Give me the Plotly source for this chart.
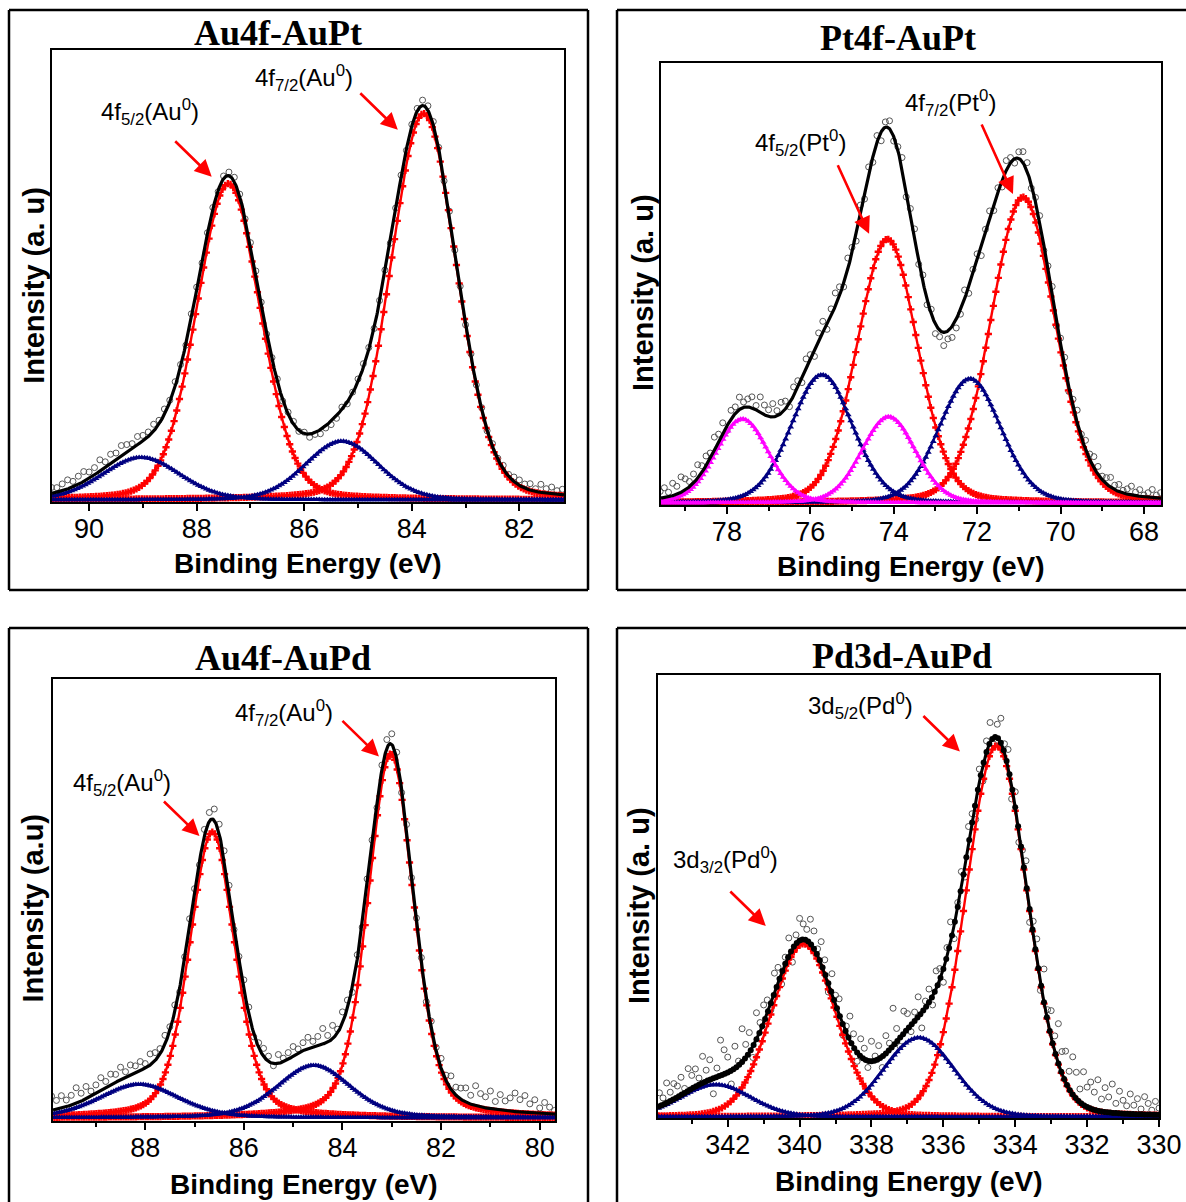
import numpy as np
import plotly.graph_objects as go

# ---------------- data ----------------
# Peak parameters: centre (eV), height (fraction of plot height), FWHM (eV)

# Panel 1: Au4f-AuPt
p1_red_c = [83.78, 87.41]
p1_red_h = [0.855, 0.700]
p1_red_w = [1.45, 1.40]
p1_blue_c = [85.30, 89.03]
p1_blue_h = [0.130, 0.094]
p1_blue_w = [1.60, 1.70]
p1_raw_start = 81.2
p1_raw_resid = [
    .012, .008, .015, .010, .018, .006, .014, .009, .012,
    .010, .004, .008, .002, .006, -.002, .004, .000, .005,
    -.003, .004, .002, .006, -.004, .003, .008, .010, .012, .006,
    .004, -.003, .005, .002, -.004, .006, .003, -.002, .004, .008,
    .006, .002, -.004, .005, -.006, -.008, -.005, -.009, -.004, -.007,
    .003, -.002, .006, .004, -.003, .005, .002, -.004, .003, .006,
    .004, -.002, .005, .010, .008, .006, -.003, .004, .002, -.004,
    .006, .009, -.003, .005, .010, .004, .012, .008, .015, .010,
    .012, .018, .010, .016, .022, .014, .020, .012, .025, .016,
    .014, .022, .018, .012, .020, .015, .010, .013]

# Panel 2: Pt4f-AuPt
p2_red_c = [70.90, 74.15]
p2_red_h = [0.692, 0.597]
p2_red_w = [1.80, 1.70]
p2_blue_c = [72.17, 75.72]
p2_blue_h = [0.281, 0.290]
p2_blue_w = [1.75, 1.74]
p2_mag_c = [74.12, 77.63]
p2_mag_h = [0.195, 0.190]
p2_mag_w = [1.52, 1.48]
p2_raw_start = 67.6
p2_raw_resid = [
    .012, .006, .018, .010, .004, .015, .008, .020, .012, .006,
    .016, .010, .022, .014, .008, .018, .025, .012, .020, .006,
    .028, .015, -.010, .020, .012, -.015, .018, .008, -.012, .015,
    .010, -.008, .020, .025, .015, -.010, .012, .022, -.015, .010,
    -.012, .018, .008, -.020, .015, .010, -.015, .020, -.010, -.020,
    -.025, -.018, -.030, -.015, -.022, .010, -.012, .015, -.008, .020,
    .012, -.015, .025, .008, -.010, .018, .012, -.020, .015, -.012,
    .018, -.010, .022, -.015, .012, .025, -.008, .020, .030, .015,
    -.012, .025, .018, -.015, .010, .022, -.010, .015, .020, -.008,
    .018, .025, .012, .030, .015, .022, .035, .010, .025, .018,
    .012, .028, .015, .020, -.010, .025, .018, .030, .012, .022,
    .015, .030, .020, .012, .025, .035, .018, .028, .010, .022, .015]

# Panel 3: Au4f-AuPd
p3_red_c = [83.02, 86.64]
p3_red_h = [0.824, 0.647]
p3_red_w = [1.09, 1.09]
p3_blue_c = [84.58, 88.12]
p3_blue_h = [0.119, 0.076]
p3_blue_w = [1.75, 1.90]
p3_raw_start = 79.7
p3_raw_resid = [
    .008, .015, .025, .012, .030, .020, .038, .028, .042, .030,
    .022, .035, .018, .040, .025, .030, .045, .020, .032, .025,
    .018, .030, .012, .022, .008, .015, -.008, .010, .005, -.006,
    .012, -.008, .015, .024, .020, .010, -.010, .008, .015, -.005,
    .010, -.012, .018, .025, .008, .030, .015, .035, .020, .012,
    .025, .018, .010, .022, .015, .008, .020, -.005, .012, .018,
    .010, -.008, .015, .020, .005, -.010, .012, .018, .022, .026,
    .020, .015, -.008, .010, .018, .005, -.010, .015, .008, .020,
    .012, .018, .025, .010, .020, .015, .022, .012, .028, .018,
    .025, .015, .030, .020, .012, .028, .018, .035, .022, .015,
    .028, .020, .032]

# Panel 4: Pd3d-AuPd
p4_red_c = [334.52, 339.89]
p4_red_h = [0.838, 0.391]
p4_red_w = [2.00, 2.10]
p4_blue_c = [336.68, 342.33]
p4_blue_h = [0.179, 0.073]
p4_blue_w = [2.30, 2.30]
p4_raw_start = 330.0
p4_raw_resid = [
    .015, .030, .010, .025, .040, .012, .035, .020, .045, .018,
    .030, .050, .022, .065, .035, .055, .028, .070, .040, .060,
    .045, .075, .030, .060, .085, .040, .070, .050, .090, .035,
    .060, .025, .075, -.020, .045, .030, -.030, .050, .015, -.025,
    .035, -.030, .040, .020, .055, .030, -.015, .045, .025, -.035,
    .030, -.040, .020, .040, -.025, .035, .010, -.030, .045, .020,
    -.030, .025, .040, -.020, .030, .015, -.035, .045, .020, -.015,
    .035, .050, -.020, .030, .085, .015, .040, -.025, .030, .010,
    .045, -.015, .025, .040, -.020, .030, .055, .015, -.025, .035,
    .020, .045, -.020, .030, .050, .015, .040, .055, .025, .035,
    .050, .020, -.030, .040, .015, -.025, .035, .045, -.015, .030,
    .040, .020, .060, -.025, .045, .030, .075, .010, .050, -.030,
    .035, .055, .080, .020, -.035, .045, .025, .060, .015, .040,
    .030, .050, .010, .040, .025, .035, .020, .045, .015, .030]

# Titles, labels
titles = ["Au4f-AuPt", "Pt4f-AuPt", "Au4f-AuPd", "Pd3d-AuPd"]
ytitles = ["Intensity (a. u)", "Intensity (a. u)", "Intensity (a.u)", "Intensity (a. u)"]
xtitle = "Binding Energy (eV)"
peak_labels = [
    ["4f<sub>5/2</sub>(Au<sup>0</sup>)", "4f<sub>7/2</sub>(Au<sup>0</sup>)"],
    ["4f<sub>5/2</sub>(Pt<sup>0</sup>)", "4f<sub>7/2</sub>(Pt<sup>0</sup>)"],
    ["4f<sub>5/2</sub>(Au<sup>0</sup>)", "4f<sub>7/2</sub>(Au<sup>0</sup>)"],
    ["3d<sub>3/2</sub>(Pd<sup>0</sup>)", "3d<sub>5/2</sub>(Pd<sup>0</sup>)"],
]

# ---------------- styling / layout ----------------
W, H = 1186, 1202
RED, NAVY, MAG = "#ff0000", "#000080", "#ff00ff"

panels = [
    dict(red=(p1_red_c, p1_red_h, p1_red_w), blue=(p1_blue_c, p1_blue_h, p1_blue_w), mag=None,
         eta=0.15, raw0=p1_raw_start, resid=p1_raw_resid, xr=[90.69, 81.17], yr=[-0.0044, 0.9956],
         px=(52, 564), py=(50, 502), step=0.05,
         lab_pos=[(88.87, 0.858), (86.01, 0.934)],
         arrows=[(87.72, 0.715, -38, -37), (84.26, 0.819, -39, -38)],
         title_pos=(277.6, 33), ytitle_px=(33.7, 285)),
    dict(red=(p2_red_c, p2_red_h, p2_red_w), blue=(p2_blue_c, p2_blue_h, p2_blue_w),
         mag=(p2_mag_c, p2_mag_h, p2_mag_w),
         eta=0.15, raw0=p2_raw_start, resid=p2_raw_resid, xr=[79.58, 67.59], yr=[-0.0045, 0.9955],
         px=(661, 1161), py=(63, 505), step=0.06,
         lab_pos=[(76.23, 0.814), (72.63, 0.905)],
         arrows=[(74.59, 0.609, -32, -70), (71.14, 0.699, -32, -71)],
         title_pos=(898, 38), ytitle_px=(643, 293)),
    dict(red=(p3_red_c, p3_red_h, p3_red_w), blue=(p3_blue_c, p3_blue_h, p3_blue_w), mag=None,
         eta=0.3, raw0=p3_raw_start, resid=p3_raw_resid, xr=[89.87, 79.69], yr=[-0.0068, 0.9932],
         px=(53, 555), py=(679, 1121), step=0.05,
         lab_pos=[(88.47, 0.758), (85.19, 0.916)],
         arrows=[(86.90, 0.638, -37, -36), (83.26, 0.818, -38, -37)],
         title_pos=(283, 658), ytitle_px=(32.5, 908)),
    dict(red=(p4_red_c, p4_red_h, p4_red_w), blue=(p4_blue_c, p4_blue_h, p4_blue_w), mag=None,
         eta=0.1, raw0=p4_raw_start, resid=p4_raw_resid, xr=[343.94, 330.0], yr=[-0.0023, 0.9977],
         px=(658, 1159), py=(675, 1118), step=0.08,
         lab_pos=[(342.06, 0.580), (338.31, 0.928)],
         arrows=[(340.94, 0.431, -37, -36), (335.54, 0.825, -38, -37)],
         title_pos=(902, 656), ytitle_px=(639, 906)),
]


def pv(x, c, h, w, eta):
    g = np.exp(-4 * np.log(2) * (x - c) ** 2 / w ** 2)
    l = 1.0 / (1 + 4 * (x - c) ** 2 / w ** 2)
    return h * ((1 - eta) * g + eta * l)


def comps(p):
    out = []
    for key in ("red", "blue", "mag"):
        if p[key] is None:
            continue
        cs, hs, ws = p[key]
        for c, h, w in zip(cs, hs, ws):
            out.append((key, c, h, w))
    return out


fig = go.Figure()
annotations = []
shapes = []

for i, p in enumerate(panels):
    n = "" if i == 0 else str(i + 1)
    xa, ya = "x" + n, "y" + n
    lo, hi = min(p["xr"]), max(p["xr"])
    cl = comps(p)

    def envelope(x):
        return sum(pv(x, c, h, w, p["eta"]) for _, c, h, w in cl)

    # raw data
    xr = p["raw0"] + 0.1 * np.arange(len(p["resid"]))
    yr = envelope(xr) + np.array(p["resid"])
    fig.add_trace(go.Scatter(x=xr, y=yr, mode="markers", xaxis=xa, yaxis=ya,
                             marker=dict(symbol="circle-open", size=6, color="#555555",
                                         line=dict(width=1)),
                             showlegend=False, hoverinfo="skip"))
    # components
    xg = np.arange(lo, hi + p["step"] / 2, p["step"])
    for key, c, h, w in cl:
        col = {"red": RED, "blue": NAVY, "mag": MAG}[key]
        sym = {"red": "cross", "blue": "triangle-up", "mag": "triangle-up"}[key]
        fig.add_trace(go.Scatter(x=xg, y=pv(xg, c, h, w, p["eta"]), mode="lines+markers",
                                 xaxis=xa, yaxis=ya,
                                 line=dict(color=col, width=2.4),
                                 marker=dict(symbol=sym, size=6, color=col, line=dict(width=0)),
                                 showlegend=False, hoverinfo="skip"))
    # envelope
    xf = np.arange(lo, hi + 0.005, 0.01)
    if i == 3:
        fig.add_trace(go.Scatter(x=xg, y=envelope(xg), mode="lines+markers", xaxis=xa, yaxis=ya,
                                 line=dict(color="black", width=3),
                                 marker=dict(symbol="circle", size=6, color="black"),
                                 showlegend=False, hoverinfo="skip"))
    else:
        fig.add_trace(go.Scatter(x=xf, y=envelope(xf), mode="lines", xaxis=xa, yaxis=ya,
                                 line=dict(color="black", width=3.2),
                                 showlegend=False, hoverinfo="skip"))

    x0, x1 = p["px"]
    y0, y1 = p["py"]
    xdom = [x0 / W, x1 / W]
    ydom = [1 - y1 / H, 1 - y0 / H]
    fig.update_layout(**{
        "xaxis" + n: dict(domain=xdom, range=p["xr"], anchor=ya, showgrid=False, zeroline=False,
                          automargin=False,
                          showline=True, linecolor="black", linewidth=2, mirror=True,
                          ticks="outside", ticklen=7, tickwidth=2, tickcolor="black",
                          tick0=0, dtick=2, ticklabelstandoff=-5,
                          minor=dict(ticks="outside", dtick=1, ticklen=4, tickwidth=2,
                                     tickcolor="black"),
                          tickfont=dict(family="Liberation Sans, Arial", size=27, color="black")),
        "yaxis" + n: dict(domain=ydom, range=p["yr"], anchor=xa, showgrid=False, zeroline=False,
                          automargin=False,
                          showline=True, linecolor="black", linewidth=2, mirror=True,
                          ticks="", showticklabels=False),
    })
    pw, ph = x1 - x0, y1 - y0
    # chart title
    tx, ty = p["title_pos"]
    annotations.append(dict(text="<b>%s</b>" % titles[i], xref=xa + " domain", yref=ya + " domain",
                            x=(tx - x0) / pw, y=(y1 - ty) / ph, xanchor="center", yanchor="middle",
                            showarrow=False,
                            font=dict(family="Liberation Serif, Times New Roman", size=36,
                                      color="black")))
    # x title
    annotations.append(dict(text="<b>%s</b>" % xtitle, xref=xa + " domain", yref=ya + " domain",
                            x=0.5, y=-(61 if i < 2 else 63.5) / ph, xanchor="center",
                            yanchor="middle", showarrow=False,
                            font=dict(family="Liberation Sans, Arial", size=28, color="black")))
    # y title
    yx, yy = p["ytitle_px"]
    annotations.append(dict(text="<b>%s</b>" % ytitles[i], xref=xa + " domain", yref=ya + " domain",
                            x=(yx - x0) / pw, y=(y1 - yy) / ph, xanchor="center", yanchor="middle",
                            textangle=-90, showarrow=False,
                            font=dict(family="Liberation Sans, Arial", size=29, color="black")))
    # peak labels and arrows
    for k in range(2):
        lx, ly = p["lab_pos"][k]
        annotations.append(dict(text=peak_labels[i][k], xref=xa, yref=ya, x=lx, y=ly,
                                xanchor="center", yanchor="middle", showarrow=False,
                                font=dict(family="Liberation Sans, Arial", size=24, color="black")))
        hx, hy, ax, ay = p["arrows"][k]
        annotations.append(dict(text="", xref=xa, yref=ya, x=hx, y=hy, ax=ax, ay=ay,
                                showarrow=True, arrowhead=2, arrowsize=1.3, arrowwidth=2.6,
                                arrowcolor=RED, standoff=0, startstandoff=0))

# outer panel frames (pixel positions converted to paper fractions); sides that run
# off the picture edge in the reference are left open
frames_px = [
    (9, 10, 588, 590, "lrtb"),
    (617, 10, 1186, 590, "ltb"),
    (9, 628, 588, 1202, "lrt"),
    (617, 628, 1186, 1202, "lt"),
]
for bx0, by0, bx1, by1, sides in frames_px:
    X0, X1, Y0, Y1 = bx0 / W, bx1 / W, 1 - by1 / H, 1 - by0 / H
    segs = {"l": (X0, Y0, X0, Y1), "r": (X1, Y0, X1, Y1),
            "t": (X0, Y1, X1, Y1), "b": (X0, Y0, X1, Y0)}
    for s in sides:
        a, b, c, d = segs[s]
        shapes.append(dict(type="line", xref="paper", yref="paper", x0=a, y0=b, x1=c, y1=d,
                           line=dict(color="black", width=2.5)))

fig.update_layout(width=W, height=H, margin=dict(l=0, r=0, t=0, b=0, autoexpand=False),
                  paper_bgcolor="white", plot_bgcolor="white",
                  annotations=annotations, shapes=shapes, showlegend=False)

fig.write_html("out.html", config={"displayModeBar": False},
               post_script="document.body.style.margin='0px';document.body.style.overflow='hidden';")
